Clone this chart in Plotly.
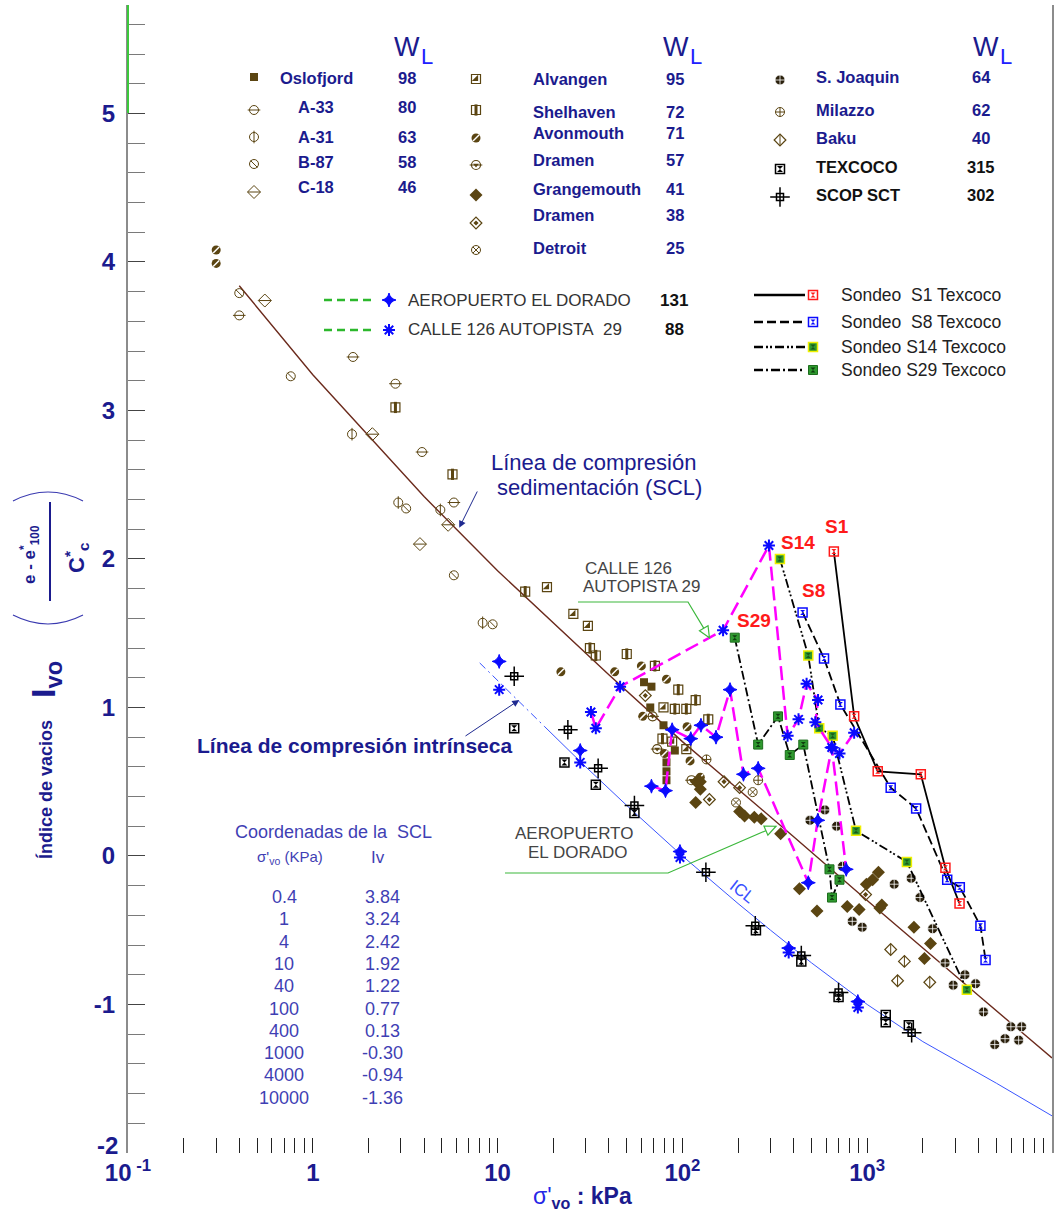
import math
import plotly.graph_objects as go

# ---------------------------------------------------------------
# Data: effective vertical stress sigma'vo (kPa) and void index Iv
# ---------------------------------------------------------------
# Sedimentation compression line (SCL) coordinates
scl_sigma = [0.4, 1, 4, 10, 40, 100, 400, 1000, 4000, 10000]
scl_iv = [3.84, 3.24, 2.42, 1.92, 1.22, 0.77, 0.13, -0.30, -0.94, -1.36]

# Intrinsic compression line (ICL); first three points drawn dash-dot
icl_sigma = [8, 10, 18, 30, 50, 100, 200, 300, 500, 1000, 2000, 5000, 10000]
icl_iv = [1.30, 1.18, 0.87, 0.60, 0.34, 0.00, -0.32, -0.50, -0.72, -1.00, -1.25, -1.53, -1.75]

oslofjord_sigma = [62, 68, 67, 79, 91, 82, 82, 82]
oslofjord_iv = [1.17, 1.14, 1.00, 0.88, 0.71, 0.63, 0.57, 0.51]
a33_sigma = [0.4, 1.65, 2.8, 3.9, 5.8]
a33_iv = [3.64, 3.36, 3.18, 2.72, 2.38]
a31_sigma = [1.63, 2.9, 4.9, 8.3]
a31_iv = [2.84, 2.38, 2.33, 1.57]
b87_sigma = [0.4, 0.76, 3.2, 5.8, 9.4]
b87_iv = [3.79, 3.23, 2.34, 1.89, 1.56]
c18_sigma = [0.55, 2.1, 5.4, 3.8]
c18_iv = [3.74, 2.84, 2.23, 2.10]
alvangen_sigma = [18.5, 25.7, 30.8, 79, 88, 105]
alvangen_iv = [1.81, 1.63, 1.55, 1.00, 0.77, 0.72]
shelhaven_sigma = [2.8, 5.7, 14.1, 31.6, 34, 50, 71, 95, 118, 91, 105, 138, 78]
shelhaven_iv = [3.02, 2.57, 1.78, 1.40, 1.35, 1.36, 1.28, 1.12, 1.05, 0.99, 0.99, 0.92, 0.79]
avonmouth_sigma = [0.3, 0.3, 22, 43, 60, 82, 61, 106, 110, 125, 80]
avonmouth_iv = [4.08, 3.99, 1.24, 1.24, 1.28, 1.19, 0.94, 0.87, 0.64, 0.53, 0.69]
dramen57_sigma = [69, 73, 112]
dramen57_iv = [0.94, 0.72, 0.51]
grangemouth_sigma = [119, 125, 125, 118, 204, 217, 245, 267, 340, 430, 535, 780, 904,
                     990, 1070, 1150, 1170, 1200, 1790, 2200, 2040]
grangemouth_iv = [0.50, 0.50, 0.45, 0.36, 0.30, 0.27, 0.26, 0.25, 0.15, -0.22, -0.37, -0.34, -0.36,
                  -0.19, -0.16, -0.11, -0.35, -0.33, -0.48, -0.59, -0.69]
dramen38_sigma = [63, 140, 168, 204, 980]
dramen38_iv = [1.08, 0.38, 0.50, 0.46, -0.26]
detroit_sigma = [240, 195]
detroit_iv = [0.43, 0.36]
sjoaquin_sigma = [490, 590, 683, 735, 830, 940, 1400, 1730, 1930, 2260, 2640, 2920, 3380,
                  3860, 4260, 5990, 6850, 4900, 5570, 6600]
sjoaquin_iv = [0.24, 0.31, 0.20, -0.07, -0.44, -0.48, -0.19, -0.15, -0.28, -0.49, -0.72, -0.87, -0.80,
               -0.86, -1.05, -1.15, -1.15, -1.27, -1.23, -1.24]
milazzo_sigma = [135, 257]
milazzo_iv = [0.65, 0.51]
baku_sigma = [1340, 1590, 1460, 2180]
baku_iv = [-0.63, -0.71, -0.84, -0.85]
texcoco_sigma = [12.3, 23, 34, 55, 250, 440, 700, 1260, 1260, 1680]
texcoco_iv = [0.86, 0.63, 0.48, 0.29, -0.50, -0.71, -0.95, -1.07, -1.12, -1.14]
scop_sigma = [12.3, 24, 35, 55, 134, 248, 440, 700, 1740]
scop_iv = [1.21, 0.85, 0.59, 0.34, -0.11, -0.47, -0.67, -0.92, -1.19]

# Bogota sites: connected profile + points lying on the ICL
aero_path_sigma = [68, 81, 88, 111, 126, 152, 181, 214, 257, 480, 540, 643, 770]
aero_path_iv = [0.47, 0.44, 0.85, 0.79, 0.88, 0.80, 1.12, 0.55, 0.59, -0.18, 0.24, 0.73, -0.09]
aero_icl_sigma = [10.2, 28, 97, 376, 890]
aero_icl_iv = [1.31, 0.71, 0.03, -0.62, -0.98]
calle_path_sigma = [32, 34, 46, 166, 294, 371, 425, 470, 542, 524, 643, 708, 850]
calle_path_iv = [0.97, 0.86, 1.14, 1.52, 2.09, 0.81, 0.92, 1.16, 1.05, 0.90, 0.73, 0.69, 0.83]
calle_icl_sigma = [10.2, 28, 97, 376, 890]
calle_icl_iv = [1.12, 0.63, -0.01, -0.65, -1.02]

# Texcoco soundings
s1_sigma = [660, 850, 1140, 1950, 2650, 3160]
s1_iv = [2.05, 0.94, 0.57, 0.55, -0.08, -0.32]
s8_sigma = [447, 584, 716, 1340, 1840, 2710, 3170, 4100, 4370]
s8_iv = [1.64, 1.33, 1.02, 0.46, 0.32, -0.16, -0.21, -0.47, -0.70]
s14_sigma = [337, 480, 550, 650, 870, 1640, 3460]
s14_iv = [2.00, 1.35, 0.86, 0.81, 0.17, -0.04, -0.90]
s29_sigma = [192, 257, 329, 381, 451, 625, 645, 708]
s29_iv = [1.47, 0.75, 0.94, 0.68, 0.75, -0.09, -0.28, -0.16]

# Legend columns (name, liquid limit wL)
col1_names = ["Oslofjord", "A-33", "A-31", "B-87", "C-18"]
col1_wl = [98, 80, 63, 58, 46]
col2_names = ["Alvangen", "Shelhaven", "Avonmouth", "Dramen", "Grangemouth", "Dramen", "Detroit"]
col2_wl = [95, 72, 71, 57, 41, 38, 25]
col3_names = ["S. Joaquin", "Milazzo", "Baku", "TEXCOCO", "SCOP SCT"]
col3_wl = [64, 62, 40, 315, 302]
site_names = ["AEROPUERTO EL DORADO", "CALLE 126 AUTOPISTA\u00a0 29"]
site_wl = [131, 88]
sondeo_names = ["Sondeo\u00a0 S1 Texcoco", "Sondeo\u00a0 S8 Texcoco", "Sondeo S14 Texcoco", "Sondeo S29 Texcoco"]

# Axis tick values
x_ticks = [0.1, 1, 10, 100, 1000, 10000]
x_ticklabels = ["10<sup> -1</sup>", "1", "10", "10<sup>2</sup>", "10<sup>3</sup>", "10<sup>4</sup>"]
y_ticks = [-2, -1, 0, 1, 2, 3, 4, 5]

# ---------------------------------------------------------------
# Geometry helpers (page pixels -> paper fractions)
# ---------------------------------------------------------------
W, H = 1063, 1215
L, R, T, B = 128, 1052, 5, 1153
YMIN, YMAX = -2.0, 5.73
FONT = "Liberation Sans, Arial, sans-serif"
NAVY = "#1b1b8e"
TABLE = "#3f3fb4"
BR = "#5b4512"
SJ = "#2a200c"
BLUE = "#0a0aff"
RED = "#ff1a1a"
GREEN = "#2f9a2f"


def fx(x):
    return (x - L) / (R - L)


def fy(y):
    return (B - y) / (B - T)


def dpx(sig, iv):
    """Page position of a data point."""
    x = L + (R - L) * (math.log10(sig) + 1) / 5
    y = B - (B - T) * (iv - YMIN) / (YMAX - YMIN)
    return x, y


def mk(symbol, size, color, lw=0, lc=None):
    return dict(symbol=symbol, size=size, color=color, line=dict(width=lw, color=lc or color))


STYLE = {
    "oslofjord": [mk("square", 8, BR)],
    "a33": [mk("circle-open", 9, BR, 1), mk("line-ew-open", 9, BR, 1)],
    "a31": [mk("circle-open", 9, BR, 1), mk("line-ns-open", 9, BR, 1)],
    "b87": [mk("circle-open", 9, BR, 1), mk("line-nw-open", 7, BR, 1)],
    "c18": [mk("diamond-open", 10, BR, 1), mk("line-ew-open", 9, BR, 1)],
    "alvangen": [mk("square-open", 9, BR, 1.2), mk("triangle-se", 7, BR)],
    "shelhaven": [mk("square-open", 9, BR, 1.2), mk("line-ns-open", 8, BR, 3)],
    "avonmouth": [mk("circle", 9, BR), mk("line-ne-open", 6, "white", 1.5)],
    "dramen57": [mk("circle-open", 9, BR, 1.2), mk("line-ew-open", 9, BR, 1), mk("triangle-down", 5, BR)],
    "grangemouth": [mk("diamond", 10, BR)],
    "dramen38": [mk("diamond-open", 9, BR, 1.2), mk("diamond", 4, BR)],
    "detroit": [mk("circle-x-open", 9, BR, 1)],
    "sjoaquin": [mk("circle-cross", 10, SJ, 0.8, "white")],
    "milazzo": [mk("circle-cross-open", 9, BR, 1)],
    "baku": [mk("diamond-open", 9, BR, 1.2), mk("line-ns-open", 8, BR, 1)],
    "texcoco": [mk("square-open", 9, "black", 1.5), mk("hourglass", 6, "black")],
    "scop": [mk("cross-thin-open", 14, "black", 1.5), mk("square-open", 7, "black", 1.5)],
    "aero": [mk("star-diamond", 10, BLUE, 1, BLUE)],
    "calle": [mk("asterisk-open", 10, BLUE, 2)],
    "s1": [mk("square-open", 9, RED, 1.5), mk("hourglass", 5, RED)],
    "s8": [mk("square-open", 9, BLUE, 1.5), mk("hourglass", 5, BLUE)],
    "s14": [mk("square", 9, GREEN, 1.5, "#f0f000"), mk("hourglass", 5, "#1a5a1a")],
    "s29": [mk("square", 9, GREEN, 1, "#1d6d1d"), mk("hourglass", 5, "#0f3f0f")],
}

fig = go.Figure()


def marks(xs, ys, key, xa="x", ya="y"):
    for m in STYLE[key]:
        fig.add_trace(go.Scatter(x=xs, y=ys, mode="markers", marker=m, xaxis=xa, yaxis=ya,
                                 hoverinfo="skip", showlegend=False))


def line(xs, ys, color, width, dash="solid"):
    fig.add_trace(go.Scatter(x=xs, y=ys, mode="lines", line=dict(color=color, width=width, dash=dash),
                             hoverinfo="skip", showlegend=False))


# ---- reference lines ----
line(scl_sigma, scl_iv, "#6b2a1c", 1.4)
line(icl_sigma[:3], icl_iv[:3], "#3a55ff", 1, "8px,4px,2px,4px")
line(icl_sigma[2:], icl_iv[2:], "#3a55ff", 1)

# ---- natural clays ----
series = [
    ("a33", a33_sigma, a33_iv), ("a31", a31_sigma, a31_iv), ("b87", b87_sigma, b87_iv),
    ("c18", c18_sigma, c18_iv), ("shelhaven", shelhaven_sigma, shelhaven_iv),
    ("alvangen", alvangen_sigma, alvangen_iv), ("avonmouth", avonmouth_sigma, avonmouth_iv),
    ("oslofjord", oslofjord_sigma, oslofjord_iv), ("dramen57", dramen57_sigma, dramen57_iv),
    ("grangemouth", grangemouth_sigma, grangemouth_iv), ("dramen38", dramen38_sigma, dramen38_iv),
    ("detroit", detroit_sigma, detroit_iv), ("milazzo", milazzo_sigma, milazzo_iv),
    ("sjoaquin", sjoaquin_sigma, sjoaquin_iv), ("baku", baku_sigma, baku_iv),
    ("texcoco", texcoco_sigma, texcoco_iv), ("scop", scop_sigma, scop_iv),
]
for key, xs, ys in series:
    marks(xs, ys, key)

# ---- Texcoco soundings ----
sondeos = [
    ("s1", s1_sigma, s1_iv, "solid"),
    ("s8", s8_sigma, s8_iv, "9px,4px"),
    ("s14", s14_sigma, s14_iv, "9px,3px,2px,2px,2px,3px"),
    ("s29", s29_sigma, s29_iv, "9px,3px,2px,3px"),
]
for key, xs, ys, dash in sondeos:
    line(xs, ys, "black", 1.8, dash)
for key, xs, ys, dash in sondeos:
    marks(xs, ys, key)

# ---- Bogota profiles ----
line(calle_path_sigma, calle_path_iv, "#ff00ff", 2.5, "14px,6px")
line(aero_path_sigma, aero_path_iv, "#ff00ff", 2.5, "14px,6px")
marks(calle_path_sigma, calle_path_iv, "calle")
marks(calle_icl_sigma, calle_icl_iv, "calle")
marks(aero_path_sigma, aero_path_iv, "aero")
marks(aero_icl_sigma, aero_icl_iv, "aero")

ann = []
shapes = []


def note(x, y, text, size, color=NAVY, anchor="center", angle=0):
    ann.append(dict(x=fx(x), y=fy(y), xref="paper", yref="paper", text=text, showarrow=False,
                    font=dict(family=FONT, size=size, color=color), xanchor=anchor,
                    yanchor="middle", textangle=angle))


def seg(x0, y0, x1, y1, color, width, dash="solid"):
    shapes.append(dict(type="line", xref="paper", yref="paper", x0=fx(x0), y0=fy(y0),
                       x1=fx(x1), y1=fy(y1), line=dict(color=color, width=width, dash=dash)))


def poly(points, color, width, fill=None, closed=False):
    d = "M " + " L ".join(f"{fx(px):.5f},{fy(py):.5f}" for px, py in points)
    if closed:
        d += " Z"
    shapes.append(dict(type="path", xref="paper", yref="paper", path=d,
                       line=dict(color=color, width=width), fillcolor=fill))


def open_head(tip, tail, color, length=11, half=5):
    dx, dy = tip[0] - tail[0], tip[1] - tail[1]
    n = math.hypot(dx, dy)
    ux, uy = dx / n, dy / n
    bx, by = tip[0] - length * ux, tip[1] - length * uy
    p1 = (bx - half * uy, by + half * ux)
    p2 = (bx + half * uy, by - half * ux)
    poly([tip, p1, p2], color, 1.2, fill="white", closed=True)


# ---- legend: natural clays ----
col1_keys = ["oslofjord", "a33", "a31", "b87", "c18"]
col1_gy = [77, 110, 137, 164, 192]
col1_ty = [78, 107, 137, 162, 187]
for k, name, wl, gy, ty in zip(col1_keys, col1_names, col1_wl, col1_gy, col1_ty):
    marks([fx(254)], [fy(gy)], k, "x2", "y2")
    note(316, ty, f"<b>{name}</b>", 16.5)
    note(407, ty, f"<b>{wl}</b>", 16.5)

col2_keys = ["alvangen", "shelhaven", "avonmouth", "dramen57", "grangemouth", "dramen38", "detroit"]
col2_gy = [79, 110, 138, 165, 195, 223, 250]
col2_ty = [79, 112, 133, 160, 189, 215, 248]
for k, name, wl, gy, ty in zip(col2_keys, col2_names, col2_wl, col2_gy, col2_ty):
    marks([fx(476)], [fy(gy)], k, "x2", "y2")
    note(531, ty, f"<b>{name}</b>", 16.5, anchor="left")
    note(675, ty, f"<b>{wl}</b>", 16.5)

col3_keys = ["sjoaquin", "milazzo", "baku", "texcoco", "scop"]
col3_gy = [80, 112, 140, 169, 197]
col3_ty = [77, 110, 138, 167, 195]
for i, (k, name, wl, gy, ty) in enumerate(zip(col3_keys, col3_names, col3_wl, col3_gy, col3_ty)):
    c = NAVY if i < 3 else "#111111"
    marks([fx(780)], [fy(gy)], k, "x2", "y2")
    note(814, ty, f"<b>{name}</b>", 16.5, c, anchor="left")
    note(981, ty, f"<b>{wl}</b>", 16.5, c)

for wx in (407, 676, 986):
    note(wx, 47, "W", 27)
    note(wx + 20, 56, "L", 22, "#2020ff")

# ---- legend: Bogota sites ----
for key, name, wl, y in zip(["aero", "calle"], site_names, site_wl, [300, 330]):
    seg(324, y, 375, y, "#2cb82c", 2.5, "8px,5px")
    marks([fx(389)], [fy(y)], key, "x2", "y2")
    note(406, y, name, 17, "#333333", anchor="left")
    note(674, y, f"<b>{wl}</b>", 17, "#111111")

# ---- legend: soundings ----
for (key, _, _, dash), name, y in zip(sondeos, sondeo_names, [295, 322, 347, 370]):
    seg(754, y, 805, y, "black", 2.5, dash)
    marks([fx(813)], [fy(y)], key, "x2", "y2")
    note(839, y, name, 17.5, "#222222", anchor="left")

# ---- SCL coordinate table ----
note(333, 832, "Coordenadas de la\u00a0 SCL", 18, TABLE)
note(290, 857, "σ'<sub>vo</sub> (KPa)", 15, TABLE)
note(378, 857, "Iv", 17, TABLE)
for i, (s, v) in enumerate(zip(scl_sigma, scl_iv)):
    y = 897 + 22.3 * i
    note(284, y, f"{s:g}", 18, TABLE)
    note(382, y, f"{v:.2f}", 18, TABLE)

# ---- line labels with arrows ----
note(593, 462, "Línea de compresión", 22)
note(599, 487, "sedimentación (SCL)", 22)
tip = dpx(6.2, 2.21)
ann.append(dict(x=math.log10(6.2), y=2.21, xref="x", yref="y", text="", showarrow=True,
                ax=478 - tip[0], ay=490 - tip[1], arrowhead=2, arrowsize=1.4, arrowwidth=1,
                arrowcolor="#1f2a90"))

note(354, 745, "<b>Línea de compresión intrínseca</b>", 21)
tip = dpx(13.1, 1.05)
ann.append(dict(x=math.log10(13.1), y=1.05, xref="x", yref="y", text="", showarrow=True,
                ax=464 - tip[0], ay=737 - tip[1], arrowhead=2, arrowsize=1.4, arrowwidth=1,
                arrowcolor="#1f2a90"))

ann.append(dict(x=math.log10(210), y=-0.24, xref="x", yref="y", text="ICL", showarrow=False,
                textangle=38, font=dict(family=FONT, size=17, color="#3a50ff")))

# site call-outs
note(628, 568, "CALLE 126", 17, "#444444")
note(641, 586, "AUTOPISTA 29", 17, "#444444")
tip = dpx(140, 1.47)
poly([(578, 602), (688, 602), tip], "#3cb83c", 1.2)
open_head(tip, (688, 602), "#3cb83c")

note(574, 833, "AEROPUERTO", 17, "#444444")
note(578, 853, "EL DORADO", 17, "#444444")
tip = dpx(321, 0.20)
poly([(505, 873), (668, 873), tip], "#3cb83c", 1.2)
open_head(tip, (668, 873), "#3cb83c")

# sounding labels next to their first point
for key, xs, ys, dx, dy, label in [("s1", s1_sigma, s1_iv, 3, 25, "S1"),
                                   ("s14", s14_sigma, s14_iv, 18, 16, "S14"),
                                   ("s8", s8_sigma, s8_iv, 11, 22, "S8"),
                                   ("s29", s29_sigma, s29_iv, 19, 17, "S29")]:
    ann.append(dict(x=math.log10(xs[0]), y=ys[0], xref="x", yref="y", text=f"<b>{label}</b>",
                    showarrow=False, xshift=dx, yshift=dy,
                    font=dict(family=FONT, size=19, color=RED)))

# lowest y label sits just above the corner so it clears the x labels
ann.append(dict(x=0, y=y_ticks[0], xref="paper", yref="y", text=f"<b>{y_ticks[0]}</b>",
                showarrow=False, xanchor="right", yanchor="middle", xshift=-8, yshift=8,
                font=dict(family=FONT, size=24, color=NAVY)))

# ---- axis titles ----
note(45, 790, "<b>Índice de vacios</b>", 18, angle=-90)
note(45, 680, "<b>I<sub>vo</sub></b>", 34, angle=-90)
note(30, 555, "<b>e - e<sup>*</sup><sub>100</sub></b>", 17, angle=-90)
note(76, 558, "<b>C<sup>*</sup><sub>c</sub></b>", 22, angle=-90)
seg(50, 502, 50, 601, NAVY, 2)
for d in ("M {a},{b} Q {c},{d} {e},{b}".format(a=fx(13), b=fy(501), c=fx(48), d=fy(483), e=fx(83)),
          "M {a},{b} Q {c},{d} {e},{b}".format(a=fx(13), b=fy(615), c=fx(48), d=fy(633), e=fx(83))):
    shapes.append(dict(type="path", xref="paper", yref="paper", path=d,
                       line=dict(color="#3a3ab0", width=1.2)))
note(582, 1197, "<span style='color:#2626e6'>σ'</span><b><sub>vo</sub> : kPa</b>", 23)

# green mark on the upper part of the vertical axis
seg(L, 113, L, T, "#3cc83c", 2)

minor_x = [m * 10.0 ** e for e in range(-1, 4) for m in range(2, 10)]
minor_y = [round(YMIN + 0.2 * i, 1) for i in range(39) if (i % 5) != 0]

fig.update_layout(
    width=W, height=H,
    margin=dict(l=L, r=W - R, t=T, b=H - B),
    paper_bgcolor="white", plot_bgcolor="white", showlegend=False,
    xaxis=dict(type="log", range=[-1, 4],
               tickvals=x_ticks,
               ticktext=[f"<b>{t}</b>" for t in x_ticklabels],
               ticks="inside", ticklen=15, tickwidth=1, tickcolor="#222222",
               tickfont=dict(family=FONT, size=24, color=NAVY), ticklabelstandoff=3,
               showgrid=False, zeroline=False, showline=False,
               minor=dict(tickmode="array", tickvals=minor_x, ticks="inside", ticklen=15,
                          tickwidth=1, tickcolor="#222222", showgrid=False)),
    yaxis=dict(range=[YMIN, YMAX], tickvals=y_ticks,
               ticktext=[""] + [f"<b>{v}</b>" for v in y_ticks[1:]],
               ticks="inside", ticklen=17, tickwidth=1, tickcolor="#444444",
               tickfont=dict(family=FONT, size=24, color=NAVY), ticklabelstandoff=6,
               showgrid=False, zeroline=False, showline=True, linecolor="#8c8c8c",
               linewidth=2, mirror=True,
               minor=dict(tickmode="array", tickvals=minor_y, ticks="inside", ticklen=17,
                          tickwidth=1, tickcolor="#7a7a7a", showgrid=False)),
    xaxis2=dict(overlaying="x", range=[0, 1], visible=False),
    yaxis2=dict(overlaying="y", range=[0, 1], visible=False),
    annotations=ann,
    shapes=shapes,
)

fig.write_html("out.html")
